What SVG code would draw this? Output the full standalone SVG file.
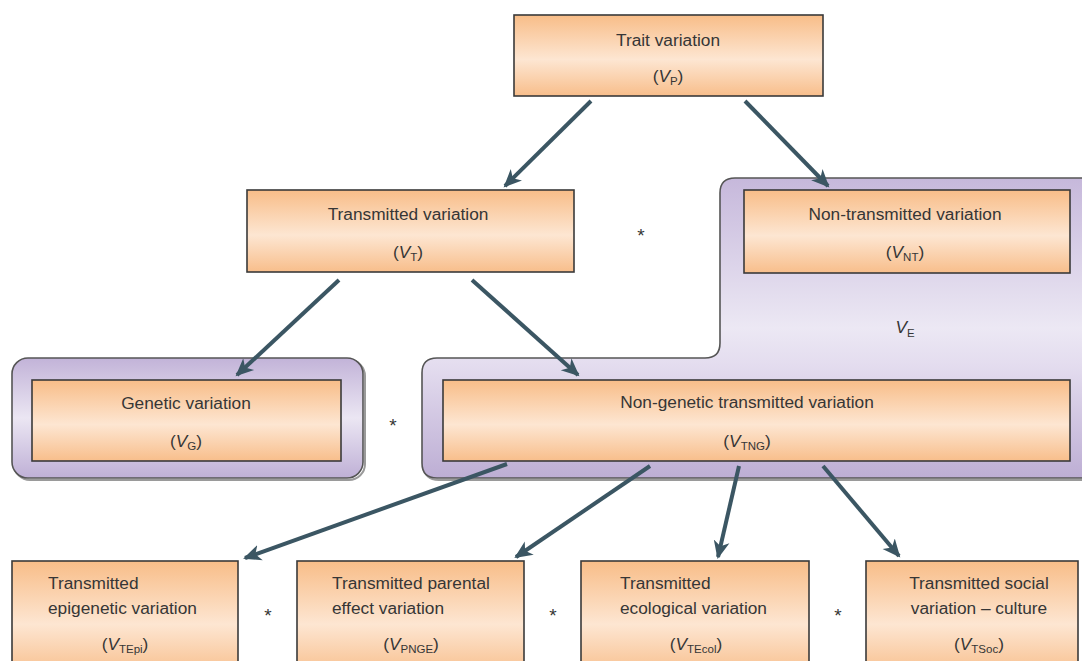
<svg xmlns="http://www.w3.org/2000/svg" width="1082" height="661" viewBox="0 0 1082 661">
<defs>
<linearGradient id="og" x1="0" y1="0" x2="0" y2="1">
<stop offset="0" stop-color="#f8bd88"/>
<stop offset="0.55" stop-color="#fde6d2"/>
<stop offset="1" stop-color="#f8be8b"/>
</linearGradient>
<linearGradient id="pg" x1="0" y1="0" x2="0" y2="1">
<stop offset="0" stop-color="#c2b3d8"/>
<stop offset="0.5" stop-color="#ebe6f3"/>
<stop offset="1" stop-color="#bfb0d6"/>
</linearGradient>
<linearGradient id="pe" x1="0" y1="0" x2="0" y2="1">
<stop offset="0" stop-color="#c6b8db"/>
<stop offset="0.5" stop-color="#ece8f4"/>
<stop offset="0.62" stop-color="#e4ddef"/>
<stop offset="1" stop-color="#bdaed4"/>
</linearGradient>
<marker id="ah" markerUnits="userSpaceOnUse" markerWidth="20" markerHeight="20" viewBox="0 0 20 20" refX="16" refY="10" orient="auto">
<path d="M0,2 L18,10 L0,18 L5,10 Z" fill="#3b5663"/>
</marker>
</defs>
<style>
.box{fill:url(#og);stroke:#3a3a3a;stroke-width:1.6}
.pbox{fill:url(#pg);stroke:#555;stroke-width:1.6}
.sh{fill:none;stroke:#9a9a9a;stroke-width:2}
text{font-family:"Liberation Sans",Arial,sans-serif;font-size:17.3px;fill:#363636}
.c{text-anchor:middle}
.v{font-style:italic}
.s{font-size:11.5px}
.con{stroke:#3b5663;stroke-width:4;fill:none;marker-end:url(#ah)}
.ast{font-size:19px;text-anchor:middle}
</style>
<rect width="1082" height="661" fill="#ffffff"/>

<g id="VE">
<path class="sh" d="M737,180 H1095 V480 H439 Q424,480 424,465 V375 Q424,360 439,360 H707 Q722,360 722,345 V195 Q722,180 737,180 Z"/>
<path d="M735,178 H1095 V478 H437 Q422,478 422,463 V373 Q422,358 437,358 H705 Q720,358 720,343 V193 Q720,178 735,178 Z" fill="url(#pe)" stroke="#555" stroke-width="1.6"/>
<text x="905" y="333" class="c"><tspan class="v">V</tspan><tspan class="s" dy="4">E</tspan></text>
</g>

<g id="G-bg">
<rect x="14" y="360" width="351" height="120" rx="16" class="sh"/>
<rect x="12" y="358" width="351" height="120" rx="16" class="pbox"/>
</g>

<g id="trait">
<rect x="514" y="15" width="309" height="81" class="box"/>
<text x="668" y="46" class="c">Trait variation</text>
<text x="668" y="82" class="c">(<tspan class="v">V</tspan><tspan class="s" dy="3">P</tspan><tspan dy="-3">)</tspan></text>
</g>

<g id="transmitted">
<rect x="247" y="190" width="327" height="82" class="box"/>
<text x="408" y="220" class="c">Transmitted variation</text>
<text x="408" y="258" class="c">(<tspan class="v">V</tspan><tspan class="s" dy="3">T</tspan><tspan dy="-3">)</tspan></text>
</g>

<g id="nontransmitted">
<rect x="744" y="190" width="326" height="83" class="box"/>
<text x="905" y="220" class="c">Non-transmitted variation</text>
<text x="905" y="258" class="c">(<tspan class="v">V</tspan><tspan class="s" dy="3">NT</tspan><tspan dy="-3">)</tspan></text>
</g>

<g id="genetic">
<rect x="32" y="380" width="309" height="81" class="box"/>
<text x="186" y="409" class="c">Genetic variation</text>
<text x="186" y="447" class="c">(<tspan class="v">V</tspan><tspan class="s" dy="3">G</tspan><tspan dy="-3">)</tspan></text>
</g>

<g id="nongenetic">
<rect x="443" y="380" width="627" height="81" class="box"/>
<text x="747" y="408" class="c">Non-genetic transmitted variation</text>
<text x="747" y="447" class="c">(<tspan class="v">V</tspan><tspan class="s" dy="3">TNG</tspan><tspan dy="-3">)</tspan></text>
</g>

<g id="epi">
<rect x="12" y="561" width="226" height="115" class="box"/>
<text x="48" y="589">Transmitted</text>
<text x="48" y="614">epigenetic variation</text>
<text x="125" y="650" class="c">(<tspan class="v">V</tspan><tspan class="s" dy="3">TEpi</tspan><tspan dy="-3">)</tspan></text>
</g>

<g id="parental">
<rect x="297" y="561" width="227" height="115" class="box"/>
<text x="332" y="589">Transmitted parental</text>
<text x="332" y="614">effect variation</text>
<text x="411" y="650" class="c">(<tspan class="v">V</tspan><tspan class="s" dy="3">PNGE</tspan><tspan dy="-3">)</tspan></text>
</g>

<g id="ecological">
<rect x="581" y="561" width="228" height="115" class="box"/>
<text x="620" y="589">Transmitted</text>
<text x="620" y="614">ecological variation</text>
<text x="696" y="650" class="c">(<tspan class="v">V</tspan><tspan class="s" dy="3">TEcol</tspan><tspan dy="-3">)</tspan></text>
</g>

<g id="social">
<rect x="866" y="561" width="212" height="115" class="box"/>
<text x="979" y="589" class="c">Transmitted social</text>
<text x="979" y="614" class="c">variation – culture</text>
<text x="979" y="650" class="c">(<tspan class="v">V</tspan><tspan class="s" dy="3">TSoc</tspan><tspan dy="-3">)</tspan></text>
</g>

<g id="asterisks">
<text x="641" y="242" class="ast">*</text>
<text x="393" y="432" class="ast">*</text>
<text x="268" y="622" class="ast">*</text>
<text x="553" y="622" class="ast">*</text>
<text x="838" y="622" class="ast">*</text>
</g>

<g id="connectors">
<line x1="591" y1="101" x2="505" y2="186" class="con"/>
<line x1="745" y1="101" x2="828" y2="186" class="con"/>
<line x1="339" y1="280" x2="237" y2="375" class="con"/>
<line x1="472" y1="280" x2="578" y2="375" class="con"/>
<line x1="507" y1="464" x2="245" y2="558" class="con"/>
<line x1="650" y1="466" x2="516" y2="557" class="con"/>
<line x1="739" y1="466" x2="718" y2="557" class="con"/>
<line x1="823" y1="466" x2="899" y2="556" class="con"/>
</g>
</svg>
